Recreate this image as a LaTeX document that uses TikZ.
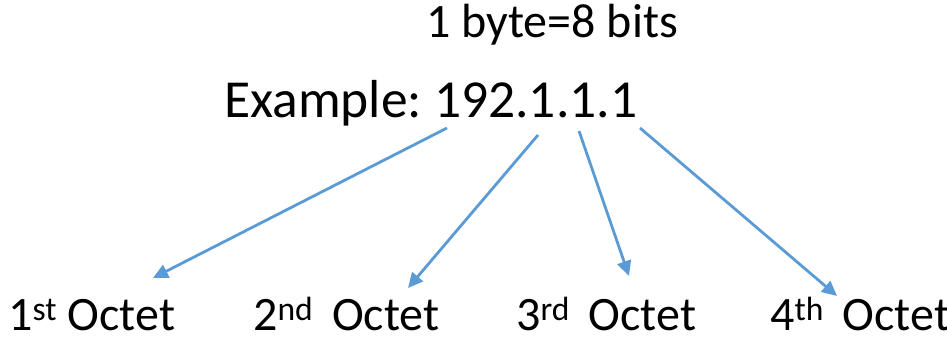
\documentclass[tikz,border=0pt]{standalone}
\usepackage{fontspec}
\setmainfont{Carlito}
\usetikzlibrary{arrows.meta}
\definecolor{arrowblue}{RGB}{91,155,213}
\tikzset{
  lbl/.style={inner sep=0pt, anchor=base west, font=\fontsize{48}{56}\selectfont},
  big/.style={inner sep=0pt, anchor=base west, font=\fontsize{53.5}{62}\selectfont},
  conn/.style={draw=arrowblue, line width=2.8pt, -{Triangle[length=15pt,width=14pt]}, fill=arrowblue}
}
\begin{document}
\begin{tikzpicture}[x=1pt,y=1pt]
\useasboundingbox (0,0) rectangle (947,340);
\node[lbl] (byte) at (426,302) {1 byte=8 bits};
\node[big] (ex) at (224,222) {Example:\hspace{-0.08em} 192.1.1.1};
\node[lbl] (o1) at (8,10) {1\textsuperscript{st} Octet};
\node[lbl] (o2) at (253,10) {2\textsuperscript{nd}\, Octet};
\node[lbl] (o3) at (516,10) {3\textsuperscript{rd}\, Octet};
\node[lbl] (o4) at (770,10) {4\textsuperscript{th}\, Octet};
\coordinate (s1) at (447,212);
\coordinate (e1) at (153,62);
\coordinate (s2) at (538,205);
\coordinate (e2) at (408,52);
\coordinate (s3) at (579,209);
\coordinate (e3) at (629,64);
\coordinate (s4) at (640,212);
\coordinate (e4) at (837,44);
\draw[conn] (s1) -- (e1);
\draw[conn] (s2) -- (e2);
\draw[conn] (s3) -- (e3);
\draw[conn] (s4) -- (e4);
\end{tikzpicture}
\end{document}
